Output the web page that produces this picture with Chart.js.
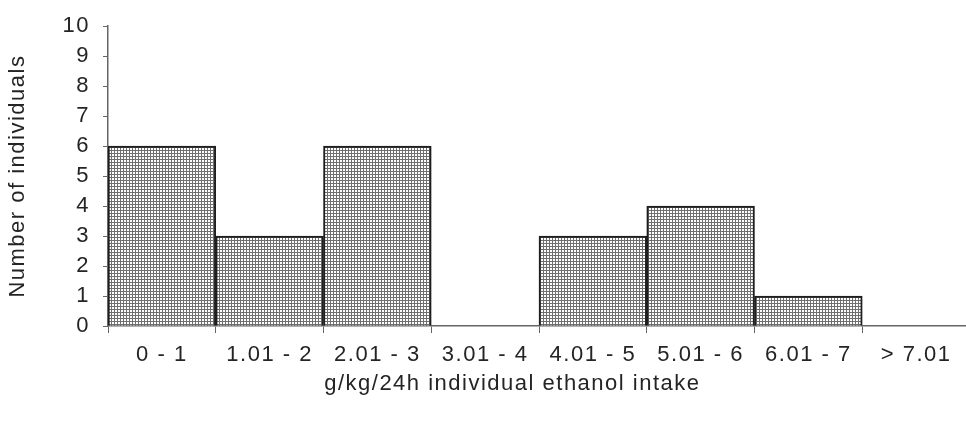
<!DOCTYPE html>
<html>
<head>
<meta charset="utf-8">
<script src="https://cdn.jsdelivr.net/npm/chart.js@4/dist/chart.umd.min.js"></script>
<style>
  html, body { margin: 0; padding: 0; background: #fff; overflow: hidden; }
</style>
</head>
<body>
<canvas id="myChart" width="972" height="426"></canvas>
<script>
// intake classes and counts
let intakeClasses = ["0 - 1", "1.01 - 2", "2.01 - 3", "3.01 - 4", "4.01 - 5", "5.01 - 6", "6.01 - 7", "> 7.01"];
let individuals = [6, 3, 6, 0, 3, 4, 1, 0];
let yTicks = [0, 1, 2, 3, 4, 5, 6, 7, 8, 9, 10];

let textColor = "#242424";
let axisColor = "#666666";
let fontFamily = "'Liberation Sans', Arial, sans-serif";

// small grid tile for the cross-hatched fill
function makeHatch() {
	let tile = document.createElement("canvas");
	tile.width = 3;
	tile.height = 3;
	let t = tile.getContext("2d");
	t.fillStyle = "#ffffff";
	t.fillRect(0, 0, 3, 3);
	t.fillStyle = "#6f6f6f";
	t.fillRect(0, 0, 3, 1);
	t.fillRect(0, 0, 1, 3);
	return t.createPattern(tile, "repeat");
}

// the scanned text is spaced a bit wide
const spacing = {
	id: "spacing",
	beforeDraw(chart) {
		chart.ctx.letterSpacing = "1.5px";
	},
};

var ctx = document.getElementById("myChart");
var myChart = new Chart(ctx, {
	type: "bar",
	data: {
		labels: intakeClasses,
		datasets: [
			{
				data: individuals,
				backgroundColor: makeHatch(),
				borderColor: "#1e1e1e",
				borderWidth: 2,
				barPercentage: 1,
				categoryPercentage: 1,
			},
		],
	},
	options: {
		responsive: false,
		animation: false,
		layout: { padding: { top: 18, right: 2, left: 0, bottom: 0 } },
		plugins: {
			legend: { display: false },
			tooltip: { enabled: false },
		},
		scales: {
			x: {
				grid: { drawOnChartArea: false, drawTicks: true, tickLength: 7, color: axisColor, offset: true },
				border: { display: true, color: axisColor, width: 1.5 },
				ticks: {
					color: textColor,
					font: { family: fontFamily, size: 22 },
					padding: 9,
					maxRotation: 0,
					autoSkip: false,
				},
				title: {
					display: true,
					// trailing spaces nudge the title left, as in the original
					text: "g/kg/24h individual ethanol intake       ",
					color: textColor,
					font: { family: fontFamily, size: 22 },
					padding: { top: 4, bottom: 29 },
				},
				afterFit: (scale) => {
					scale.height = 100;
				},
			},
			y: {
				min: 0,
				max: 10,
				afterBuildTicks: (scale) => {
					scale.ticks = yTicks.map((v) => ({ value: v }));
				},
				grid: { drawOnChartArea: false, drawTicks: true, tickLength: 5, color: axisColor },
				border: { display: true, color: axisColor, width: 1.5 },
				ticks: {
					color: textColor,
					font: { family: fontFamily, size: 22 },
					padding: 13,
				},
				title: {
					display: true,
					text: "Number of individuals",
					color: textColor,
					font: { family: fontFamily, size: 22 },
					padding: { top: 5, bottom: 0 },
				},
				afterFit: (scale) => {
					scale.width = 108;
				},
			},
		},
	},
	plugins: [spacing],
});
</script>
</body>
</html>
